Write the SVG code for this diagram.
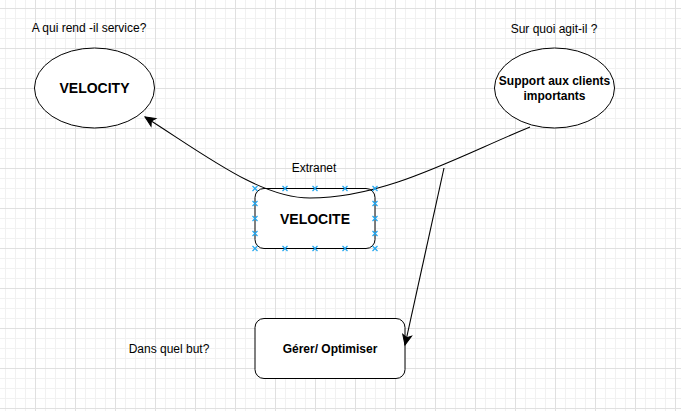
<svg xmlns="http://www.w3.org/2000/svg" width="681" height="411" viewBox="0 0 681 411">
<style>
.t{font-family:"Liberation Sans",Arial,sans-serif;font-size:12px;fill:#000;text-anchor:middle}
.b{font-weight:bold}
.big{font-size:14px}
.shape{fill:#fff;stroke:#000;stroke-width:1}
.edge{fill:none;stroke:#000;stroke-width:1.1}
.pt{stroke:#1fa5ef;stroke-width:1.2}
</style>
<defs>
<pattern id="grid" width="40" height="40" patternUnits="userSpaceOnUse" x="35" y="8">
<path d="M10.5 0V40M20.5 0V40M30.5 0V40M0 10.5H40M0 20.5H40M0 30.5H40" stroke="#f1f1f1" stroke-width="1" fill="none"/>
<path d="M0.5 0V40M0 0.5H40" stroke="#e0e0e0" stroke-width="1" fill="none"/>
</pattern>
<marker id="arr" markerUnits="userSpaceOnUse" markerWidth="14" markerHeight="12" viewBox="-11 -6 12 12" refX="0" refY="0" orient="auto">
<path d="M-10 -4.5L0 0L-10 4.5L-7.5 0Z" fill="#000" stroke="#000" stroke-width="1"/>
</marker>
<path id="x" d="M-2.5 -2.5L2.5 2.5M-2.5 2.5L2.5 -2.5"/>
</defs>
<rect width="681" height="411" fill="#fff"/>
<rect width="681" height="411" fill="url(#grid)"/>

<text class="t" x="89" y="32">A qui rend -il service?</text>
<text class="t" x="554" y="33">Sur quoi agit-il ?</text>
<text class="t" x="314" y="172">Extranet</text>
<text class="t" x="169" y="353">Dans quel but?</text>

<g id="velocity">
<ellipse class="shape" cx="94.5" cy="88" rx="60" ry="40"/>
<text class="t b big" x="94.5" y="93">VELOCITY</text>
</g>
<g id="support">
<ellipse class="shape" cx="554.5" cy="88" rx="60" ry="40"/>
<text class="t b" x="554.5" y="85">Support aux clients</text>
<text class="t b" x="554.5" y="99.5">importants</text>
</g>
<g id="velocite">
<rect class="shape" x="255" y="188.5" width="120" height="60" rx="9"/>
<text class="t b big" x="315" y="223.5">VELOCITE</text>
</g>
<g id="gerer">
<rect class="shape" x="255" y="318.5" width="150" height="60" rx="9"/>
<text class="t b" x="330" y="353">Gérer/ Optimiser</text>
</g>

<g id="connectors">
<path class="edge" d="M530 127C455 158 385 198 310 198C260 198 205 155 145 117" marker-end="url(#arr)"/>
<path class="edge" d="M444 168L405 345" marker-end="url(#arr)"/>
</g>

<g id="points" class="pt">
<use href="#x" x="255" y="188.5"/><use href="#x" x="285" y="188.5"/><use href="#x" x="315" y="188.5"/><use href="#x" x="345" y="188.5"/><use href="#x" x="375" y="188.5"/>
<use href="#x" x="255" y="248.5"/><use href="#x" x="285" y="248.5"/><use href="#x" x="315" y="248.5"/><use href="#x" x="345" y="248.5"/><use href="#x" x="375" y="248.5"/>
<use href="#x" x="255" y="203.5"/><use href="#x" x="255" y="218.5"/><use href="#x" x="255" y="233.5"/>
<use href="#x" x="375" y="203.5"/><use href="#x" x="375" y="218.5"/><use href="#x" x="375" y="233.5"/>
</g>
</svg>
